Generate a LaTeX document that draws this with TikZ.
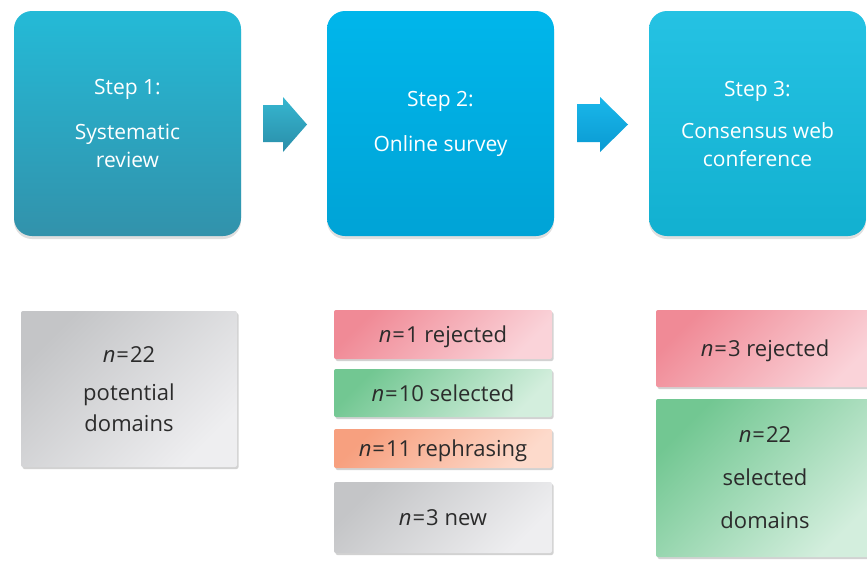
\documentclass[tikz,border=0pt]{standalone}
\usepackage{fontspec}
\setmainfont{Open Sans}
\usetikzlibrary{shadows}
\definecolor{sAtop}{HTML}{24BAD7}
\definecolor{sAbot}{HTML}{3292AB}
\definecolor{sBtop}{HTML}{00B6EB}
\definecolor{sBbot}{HTML}{00A3D6}
\definecolor{sCtop}{HTML}{25C2E3}
\definecolor{sCbot}{HTML}{12B0D0}
\definecolor{aAtop}{HTML}{36B6D0}
\definecolor{aAbot}{HTML}{2A8EA9}
\definecolor{aBtop}{HTML}{1AB7EA}
\definecolor{aBbot}{HTML}{0A9AD2}
\definecolor{redA}{HTML}{F08A96}
\definecolor{redB}{HTML}{FAD3D9}
\definecolor{grnA}{HTML}{72C792}
\definecolor{grnB}{HTML}{D3EEDD}
\definecolor{orgA}{HTML}{F7A07F}
\definecolor{orgB}{HTML}{FDDACB}
\definecolor{gryA}{HTML}{C4C5C7}
\definecolor{gryB}{HTML}{EEEEF0}
\definecolor{txtdark}{HTML}{2B2B2B}
\newcommand{\nn}{\textit{n}\kern1pt=\kern1pt}
\begin{document}
\begin{tikzpicture}[x=1pt,y=-1pt,
  stepbox/.style={rounded corners=18pt, minimum width=227pt, minimum height=225pt,
    inner sep=0pt, text=white, align=center, font=\fontsize{21}{28}\selectfont,
    drop shadow={shadow xshift=0pt, shadow yshift=-3pt, opacity=0.25}},
  resbox/.style={rounded corners=2pt, minimum width=218pt, inner sep=0pt,
    text=txtdark, align=center, font=\fontsize{22}{31}\selectfont,
    drop shadow={shadow xshift=1.5pt, shadow yshift=-2pt, opacity=0.35}},
  oneline/.style={text depth=0pt},
  diag/.style 2 args={top color=#1, bottom color=#2, shading angle=45},
  blockarrow/.style 2 args={top color=#1, bottom color=#2}
]
\clip (0,0) rectangle (867,565);
\fill[white] (0,0) rectangle (867,565);

% step boxes
\node[stepbox, top color=sAtop, bottom color=sAbot] (s1) at (127.5,123.5)
  {Step 1:\\[17pt]Systematic\\review};
\node[stepbox, top color=sBtop, bottom color=sBbot] (s2) at (440.5,123.5)
  {Step 2:\\[17pt]Online survey};
\node[stepbox, minimum width=217pt, top color=sCtop, bottom color=sCbot] (s3) at (757.5,123.5)
  {Step 3:\\[14pt]Consensus web\\conference};

% block arrows
\path[blockarrow={aAtop}{aAbot}] (263,105) -- (283,105) -- (283,97) -- (307,124.5)
  -- (283,152) -- (283,142) -- (263,142) -- cycle;
\path[blockarrow={aBtop}{aBbot}] (577,104) -- (600,104) -- (600,97) -- (628,124.5)
  -- (600,152) -- (600,142) -- (577,142) -- cycle;

% results column 1
\node[resbox, minimum width=216pt, minimum height=156pt, diag={gryA}{gryB}] (g1) at (129,389)
  {\nn22\\[7pt]potential\\domains};

% results column 2
\node[resbox, oneline, minimum height=49pt, diag={redA}{redB}] (r2) at (443,334.5)
  {\nn1 rejected};
\node[resbox, oneline, minimum height=48pt, diag={grnA}{grnB}] (e2) at (443,393)
  {\nn10 selected};
\node[resbox, oneline, minimum height=39pt, diag={orgA}{orgB}] (o2) at (443,448.5)
  {\nn11 rephrasing};
\node[resbox, oneline, minimum height=71pt, diag={gryA}{gryB}] (w2) at (443,517.5)
  {\nn3 new};

% results column 3
\node[resbox, oneline, minimum height=77pt, diag={redA}{redB}] (r3) at (765,348.5)
  {\nn3 rejected};
\node[resbox, minimum height=158pt, diag={grnA}{grnB}] (e3) at (765,478)
  {\nn22\\[12pt]selected\\[12pt]domains};
\end{tikzpicture}
\end{document}
